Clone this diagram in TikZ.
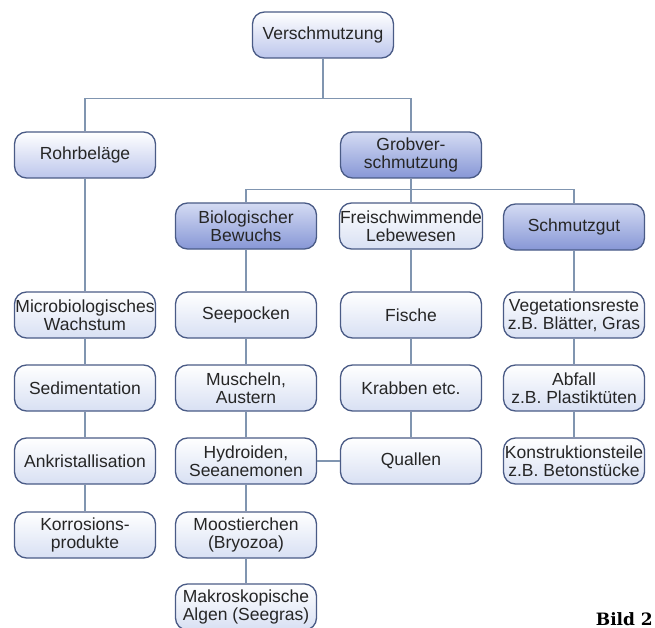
\documentclass[tikz,border=0pt]{standalone}
\usepackage{fontspec}
\setmainfont{Liberation Sans}
\newfontfamily\bildfont{DejaVu Serif}
\usetikzlibrary{calc}

\definecolor{boxline}{HTML}{4A5B86}
\definecolor{linkline}{HTML}{8095B0}
\definecolor{leaflow}{HTML}{D8E0F3}
\definecolor{toplow}{HTML}{BCC6EC}
\definecolor{grouptop}{HTML}{D4DBF3}
\definecolor{grouplow}{HTML}{8797D6}
\definecolor{boxtext}{HTML}{262626}

\begin{document}
\begin{tikzpicture}[x=1pt, y=-1pt,
    box/.style={draw=boxline, line width=1.3pt, rounded corners=12pt,
        minimum width=141pt, minimum height=46pt, inner sep=0.5pt,
        align=center, text=boxtext,
        font=\fontsize{17.5}{18}\selectfont},
    leafbox/.style={box, top color=white, bottom color=leaflow},
    topbox/.style={box, top color=white, bottom color=toplow},
    groupbox/.style={box, top color=grouptop, bottom color=grouplow},
    link/.style={draw=linkline, line width=1.2pt}]

    \useasboundingbox (0,0) rectangle (655,628);

    % top levels
    \node[topbox] (versch) at (323,35) {Verschmutzung};
    \node[topbox] (rohr) at (85,155) {Rohrbeläge};
    \node[groupbox] (grob) at (411,155) {Grobver-\\schmutzung};

    \node[groupbox] (bio) at (246,226) {Biologischer\\Bewuchs};
    \node[leafbox] (frei) at (411,226) {Freischwimmende\\Lebewesen};
    \node[groupbox] (schmutz) at (574,227) {Schmutzgut};

    % Rohrbeläge column
    \node[leafbox] (micro) at (85,315) {Microbiologisches\\Wachstum};
    \node[leafbox] (sedi) at (85,388) {Sedimentation};
    \node[leafbox] (ankris) at (85,461) {Ankristallisation};
    \node[leafbox] (korr) at (85,535) {Korrosions-\\produkte};

    % Bewuchs column
    \node[leafbox] (seep) at (246,315) {Seepocken};
    \node[leafbox] (musch) at (246,388) {Muscheln,\\Austern};
    \node[leafbox] (hydro) at (246,461) {Hydroiden,\\Seeanemonen};
    \node[leafbox] (moos) at (246,535) {Moostierchen\\(Bryozoa)};
    \node[leafbox] (algen) at (246,607) {Makroskopische\\Algen (Seegras)};

    % Lebewesen column
    \node[leafbox] (fische) at (411,315) {Fische};
    \node[leafbox] (krabb) at (411,388) {Krabben etc.};
    \node[leafbox] (quall) at (411,461) {Quallen};

    % Schmutzgut column
    \node[leafbox] (veg) at (574,315) {Vegetationsreste\\z.B. Blätter, Gras};
    \node[leafbox] (abfall) at (574,388) {Abfall\\z.B. Plastiktüten};
    \node[leafbox] (konstr) at (574,461) {Konstruktionsteile\\z.B. Betonstücke};

    % bus points
    \coordinate (bus1) at ($(versch.south)+(0,40)$);
    \coordinate (bus2) at ($(grob.south)+(0,11)$);

    % connectors
    \draw[link] (versch) -- (bus1);
    \draw[link] (rohr) |- (bus1) -| (grob);
    \draw[link] (grob) -- (frei);
    \draw[link] (bio) |- (bus2) -| (schmutz);

    \draw[link] (rohr) -- (micro) -- (sedi) -- (ankris) -- (korr);
    \draw[link] (bio) -- (seep) -- (musch) -- (hydro) -- (moos) -- (algen);
    \draw[link] (frei) -- (fische) -- (krabb) -- (quall);
    \draw[link] (schmutz) -- (veg) -- (abfall) -- (konstr);
    \draw[link] (hydro) -- (quall);

    \node[anchor=base east, inner sep=0pt,
        font=\bildfont\bfseries\fontsize{17}{18}\selectfont]
        (bild) at (653,625) {Bild 2};

\end{tikzpicture}
\end{document}
